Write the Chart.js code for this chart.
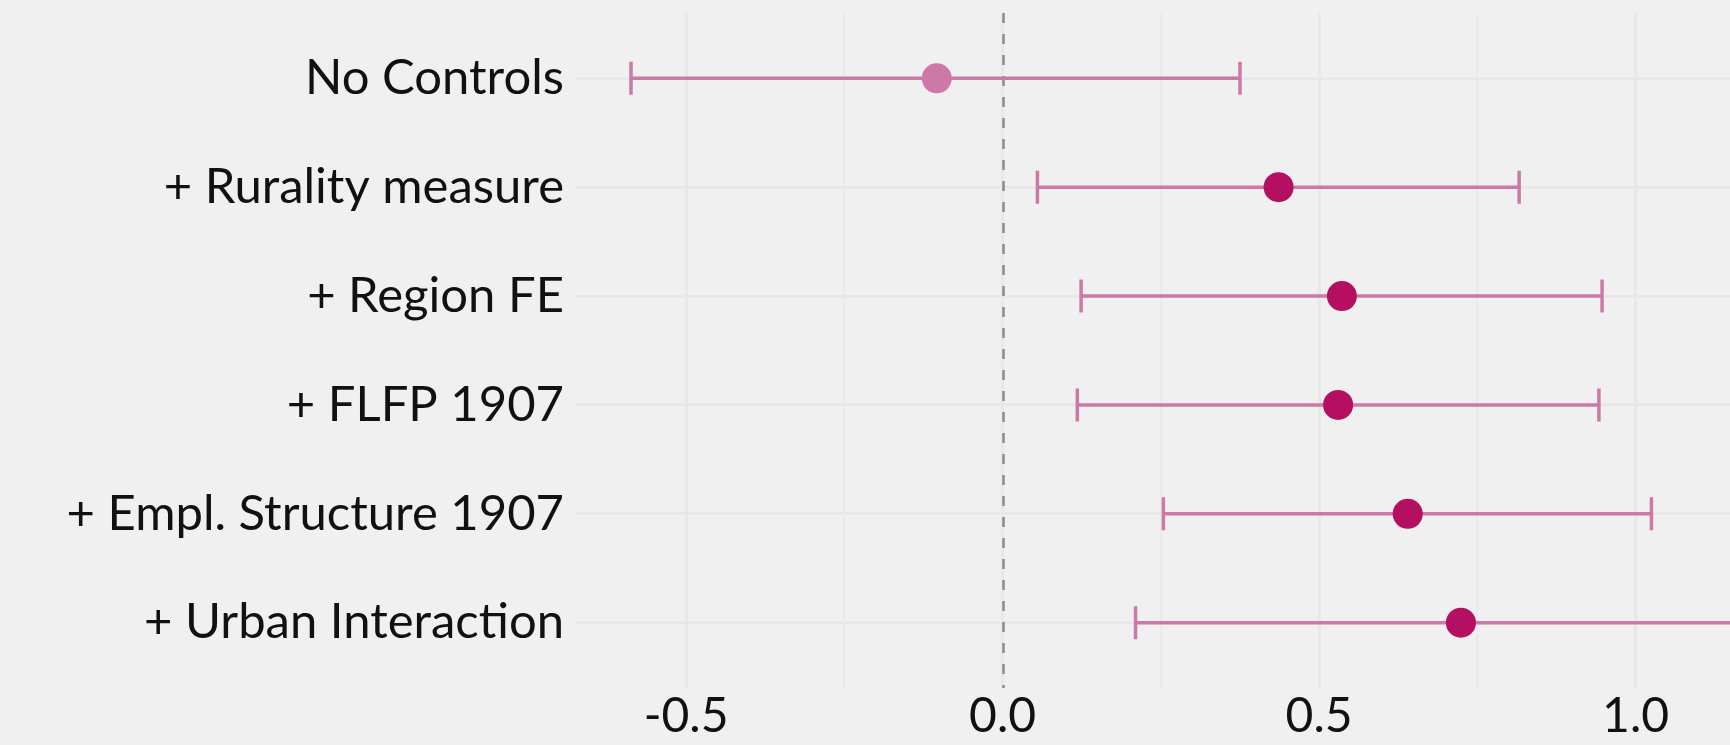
<!DOCTYPE html>
<html>
<head>
<meta charset="utf-8">
<script src="https://cdn.jsdelivr.net/npm/chart.js@4.4.1/dist/chart.umd.min.js"></script>
<style>
  html, body { margin: 0; padding: 0; background: #f0f0f0; overflow: hidden; }
  #wrap { width: 1730px; height: 745px; }
</style>
</head>
<body>
<div id="wrap"><canvas id="c" width="1730" height="745"></canvas></div>
<script>
// ---- data ----
const categories = ["No Controls", "+ Rurality measure", "+ Region FE", "+ FLFP 1907", "+ Empl. Structure 1907", "+ Urban Interaction"];
const estimates  = [-0.104, 0.436, 0.536, 0.530, 0.640, 0.724];
const lowerCI    = [-0.587, 0.055, 0.124, 0.118, 0.254, 0.210];
const upperCI    = [ 0.375, 0.816, 0.947, 0.942, 1.025, 1.238];
const xTickValues = [-0.5, -0.25, 0, 0.25, 0.5, 0.75, 1.0];
const referenceValue = 0;

// ---- styles ----
const BAR_COLOR = '#cc79a7';
const POINT_SIG = '#b50f61';
const FONT = '"Avenir Next", Avenir, Lato, sans-serif';
const isMajor = v => Math.abs((v * 2) % 1) < 1e-9;

const pointColors = lowerCI.map((lo, i) => (lo < 0 && upperCI[i] > 0) ? BAR_COLOR : POINT_SIG);

const errorBars = {
  id: 'errorBars',
  beforeDatasetsDraw(chart) {
    const { ctx, chartArea: a, scales: { x, y } } = chart;
    ctx.save();
    ctx.beginPath();
    ctx.rect(a.left, a.top, a.right - a.left, a.bottom - a.top);
    ctx.clip();
    // dashed reference line at zero
    const zx = Math.round(x.getPixelForValue(referenceValue)) + 0.5;
    ctx.strokeStyle = '#8a8a8a';
    ctx.lineWidth = 2.5;
    ctx.setLineDash([10, 11]);
    ctx.beginPath();
    ctx.moveTo(zx, a.top);
    ctx.lineTo(zx, a.bottom);
    ctx.stroke();
    ctx.setLineDash([]);
    // confidence intervals
    ctx.strokeStyle = BAR_COLOR;
    ctx.lineWidth = 3.5;
    const cap = 16.5;
    categories.forEach((c, i) => {
      const py = y.getPixelForValue(i);
      const x0 = x.getPixelForValue(lowerCI[i]);
      const x1 = x.getPixelForValue(upperCI[i]);
      ctx.beginPath();
      ctx.moveTo(x0, py); ctx.lineTo(x1, py);
      ctx.moveTo(x0, py - cap); ctx.lineTo(x0, py + cap);
      ctx.moveTo(x1, py - cap); ctx.lineTo(x1, py + cap);
      ctx.stroke();
    });
    ctx.restore();
  }
};

const bg = {
  id: 'bg',
  beforeDraw(chart) {
    const { ctx, width, height } = chart;
    ctx.save();
    ctx.fillStyle = '#f0f0f0';
    ctx.fillRect(0, 0, width, height);
    ctx.restore();
  }
};

new Chart(document.getElementById('c'), {
  type: 'scatter',
  data: {
    datasets: [{
      data: estimates.map((v, i) => ({ x: v, y: i })),
      pointRadius: 15,
      pointHoverRadius: 15,
      pointBorderWidth: 0,
      pointBackgroundColor: pointColors,
      pointBorderColor: pointColors
    }]
  },
  options: {
    responsive: false,
    devicePixelRatio: 1,
    animation: false,
    layout: { autoPadding: false, padding: { top: 13, right: 0, bottom: 0, left: 0 } },
    plugins: { legend: { display: false }, tooltip: { enabled: false } },
    scales: {
      x: {
        type: 'linear',
        min: -0.6755,
        max: 1.1491,
        border: { display: false },
        afterBuildTicks: s => { s.ticks = xTickValues.map(v => ({ value: v })); },
        afterFit: s => { s.height = 57; s.paddingLeft = 0; s.paddingRight = 0; },
        grid: {
          drawTicks: false,
          color: c => isMajor(c.tick.value) ? '#e8e8e8' : '#eaeaea',
          lineWidth: c => isMajor(c.tick.value) ? 3 : 2
        },
        ticks: {
          padding: 0,
          color: '#111',
          font: { family: FONT, size: 48, lineHeight: 1.2 },
          maxRotation: 0,
          autoSkip: false,
          callback: v => isMajor(v) ? v.toFixed(1) : ''
        }
      },
      y: {
        type: 'linear',
        reverse: true,
        min: -0.6,
        max: 5.6,
        border: { display: false },
        afterBuildTicks: s => { s.ticks = categories.map((c, i) => ({ value: i })); },
        afterFit: s => { s.width = 575; s.paddingTop = 0; s.paddingBottom = 0; },
        grid: { drawTicks: false, color: '#e8e8e8', lineWidth: 3 },
        ticks: {
          padding: 11,
          color: '#111',
          font: { family: FONT, size: 49, lineHeight: 1.2 },
          autoSkip: false,
          callback: v => categories[v]
        }
      }
    }
  },
  plugins: [bg, errorBars]
});
</script>
</body>
</html>
